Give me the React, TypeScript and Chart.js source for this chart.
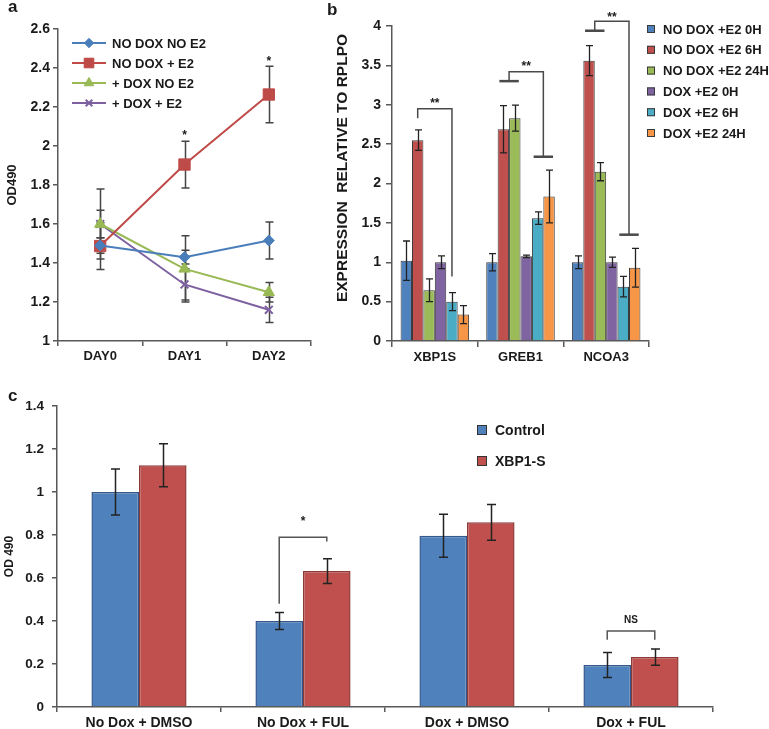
import React, { useEffect, useRef } from "react";
import { Chart, registerables } from "chart.js";
import { drawPoint } from "chart.js/helpers";
Chart.register(...registerables);

const FF = "'Liberation Sans', Arial, sans-serif";
const TEXT = "#1a1a1a";
const AXIS = "#595959";

// ---------------- Panel a ----------------
const daysA = ["DAY0", "DAY1", "DAY2"];
const namesA = ["NO DOX NO E2", "NO DOX + E2", "+ DOX NO E2", "+ DOX + E2"];
const noDoxNoE2 = [1.49, 1.43, 1.515];
const noDoxNoE2Err = [0.04, 0.035, 0.095];
const noDoxE2 = [1.487, 1.905, 2.264];
const noDoxE2Err = [0.12, 0.12, 0.145];
const doxNoE2 = [1.6, 1.37, 1.25];
const doxNoE2Err = [0.07, 0.17, 0.05];
const doxE2 = [1.6, 1.29, 1.16];
const doxE2Err = [0.18, 0.08, 0.065];
const starsAIndex = [1, 2];
const starsAValue = [2.07, 2.45];

// ---------------- Panel b ----------------
const genesB = ["XBP1S", "GREB1", "NCOA3"];
const namesB = ["NO DOX +E2 0H", "NO DOX +E2 6H", "NO DOX +E2 24H", "DOX +E2 0H", "DOX +E2 6H", "DOX +E2 24H"];
const noDox0h = [1.02, 1.0, 1.0];
const noDox0hErr = [0.25, 0.11, 0.08];
const noDox6h = [2.55, 2.69, 3.56];
const noDox6hErr = [0.13, 0.3, 0.19];
const noDox24h = [0.645, 2.83, 2.15];
const noDox24hErr = [0.145, 0.165, 0.115];
const dox0h = [1.0, 1.075, 1.0];
const dox0hErr = [0.08, 0.015, 0.065];
const dox6h = [0.5, 1.56, 0.69];
const dox6hErr = [0.115, 0.08, 0.13];
const dox24h = [0.335, 1.835, 0.93];
const dox24hErr = [0.115, 0.335, 0.245];
const bracketCatB = [0, 1, 2];
const bracketLeftB = [[1], [1, 2], [1, 2]];
const bracketRightB = [[4], [4, 5], [4, 5]];
const bracketTopB = [2.95, 3.42, 4.06];
const bracketLeftYB = [2.83, 3.3, 3.94];
const bracketRightYB = [0.82, 2.34, 1.35];
const bracketLabelB = ["**", "**", "**"];
const bracketLabelYB = [3.05, 3.52, 4.15];

// ---------------- Panel c ----------------
const catsC = ["No Dox + DMSO", "No Dox + FUL", "Dox + DMSO", "Dox + FUL"];
const namesC = ["Control", "XBP1-S"];
const controlC = [1.0, 0.4, 0.796, 0.195];
const controlCErr = [0.107, 0.04, 0.1, 0.058];
const xbp1sC = [1.124, 0.632, 0.859, 0.232];
const xbp1sCErr = [0.1, 0.057, 0.083, 0.038];
const bracketCatC = [1, 3];
const bracketTopC = [0.79, 0.353];
const bracketLeftYC = [0.48, 0.313];
const bracketRightYC = [0.77, 0.313];
const bracketLabelC = ["*", "NS"];
const bracketLabelYC = [0.875, 0.405];

const fmt = (v: any) => String(Math.round(Number(v) * 10) / 10);

function errorBars(id: string, color: string, cap: number, lw: number, before: boolean) {
  const draw = (chart: any) => {
    const ctx = chart.ctx;
    const ys = chart.scales.y;
    ctx.save();
    ctx.strokeStyle = color;
    ctx.lineWidth = lw;
    chart.data.datasets.forEach((ds: any, di: number) => {
      if (!ds.errors) return;
      const meta = chart.getDatasetMeta(di);
      meta.data.forEach((el: any, i: number) => {
        const v = ds.data[i];
        const e = ds.errors[i];
        const x = Math.round(el.x) + 0.5;
        const yt = ys.getPixelForValue(v + e);
        const yb = ys.getPixelForValue(v - e);
        ctx.beginPath();
        ctx.moveTo(x, yt);
        ctx.lineTo(x, yb);
        ctx.moveTo(x - cap, yt);
        ctx.lineTo(x + cap, yt);
        ctx.moveTo(x - cap, yb);
        ctx.lineTo(x + cap, yb);
        ctx.stroke();
      });
    });
    ctx.restore();
  };
  return before ? { id, beforeDatasetsDraw: draw } : { id, afterDatasetsDraw: draw };
}

function axisOpts(font: number, tickLen: number, pad: number) {
  return {
    grid: { drawOnChartArea: false, tickLength: tickLen, color: AXIS, lineWidth: 1.5 },
    border: { color: AXIS, width: 1.5 },
    ticks: { font: { family: FF, size: font, weight: "bold" }, color: TEXT, padding: pad },
  };
}

function configA(): any {
  const colors = ["#4a7ebb", "#be4b48", "#98b954", "#7d60a0"];
  const styles = ["rectRot", "rect", "triangle", "crossRot"];
  const radii = [5.5, 8, 6.5, 5.5];
  const vals = [noDoxNoE2, noDoxE2, doxNoE2, doxE2];
  const errs = [noDoxNoE2Err, noDoxE2Err, doxNoE2Err, doxE2Err];
  const xa: any = axisOpts(13, 5, 3);
  xa.offset = true;
  xa.grid.offset = true;
  xa.ticks.maxRotation = 0;
  xa.afterFit = (s: any) => { s.height = 29; };
  const ya: any = axisOpts(14, 5, 3);
  ya.min = 1;
  ya.max = 2.6;
  ya.ticks.stepSize = 0.2;
  ya.ticks.callback = fmt;
  ya.afterFit = (s: any) => { s.width = 58; };
  ya.title = { display: true, text: "OD490", color: TEXT, font: { family: FF, size: 13, weight: "bold" }, padding: { top: 5, bottom: 0 } };
  return {
    type: "line",
    data: {
      labels: daysA,
      datasets: namesA.map((name, i) => ({
        label: name,
        data: vals[i],
        errors: errs[i],
        borderColor: colors[i],
        backgroundColor: colors[i],
        pointBackgroundColor: colors[i],
        pointBorderColor: colors[i],
        pointStyle: styles[i],
        pointRadius: radii[i],
        pointBorderWidth: i === 3 ? 2 : 1,
        borderWidth: 2,
        tension: 0,
      })),
    },
    options: {
      animation: false,
      responsive: false,
      layout: { padding: { left: 0, top: 29, right: 9, bottom: 0 } },
      plugins: { legend: { display: false }, tooltip: { enabled: false } },
      scales: { x: xa, y: ya },
    },
    plugins: [
      errorBars("errA", "#454545", 4, 1.5, true),
      {
        id: "legendA",
        afterDraw(chart: any) {
          const ctx = chart.ctx;
          chart.data.datasets.forEach((ds: any, i: number) => {
            const y = 43 + 20 * i;
            ctx.save();
            ctx.strokeStyle = ds.borderColor;
            ctx.lineWidth = 2;
            ctx.beginPath();
            ctx.moveTo(72, y);
            ctx.lineTo(106, y);
            ctx.stroke();
            ctx.fillStyle = ds.pointBackgroundColor;
            ctx.strokeStyle = ds.pointBorderColor;
            ctx.lineWidth = ds.pointBorderWidth;
            drawPoint(ctx, { pointStyle: ds.pointStyle, radius: ds.pointRadius * 0.85, rotation: 0, borderWidth: ds.pointBorderWidth } as any, 89, y);
            ctx.fillStyle = TEXT;
            ctx.font = `bold 13px ${FF}`;
            ctx.textBaseline = "middle";
            ctx.fillText(ds.label, 112, y + 1);
            ctx.restore();
          });
        },
      },
      {
        id: "starsA",
        afterDraw(chart: any) {
          const ctx = chart.ctx;
          const meta = chart.getDatasetMeta(1);
          ctx.save();
          ctx.fillStyle = TEXT;
          ctx.font = `bold 12px ${FF}`;
          ctx.textAlign = "center";
          ctx.textBaseline = "middle";
          starsAIndex.forEach((idx, k) => {
            ctx.fillText("*", meta.data[idx].x, chart.scales.y.getPixelForValue(starsAValue[k]) + 3);
          });
          ctx.restore();
        },
      },
    ],
  };
}

function configB(): any {
  const colors = ["#4f81bd", "#c0504d", "#9bbb59", "#8064a2", "#4bacc6", "#f79646"];
  const vals = [noDox0h, noDox6h, noDox24h, dox0h, dox6h, dox24h];
  const errs = [noDox0hErr, noDox6hErr, noDox24hErr, dox0hErr, dox6hErr, dox24hErr];
  const xa: any = axisOpts(13, 6, 3);
  xa.ticks.maxRotation = 0;
  xa.grid.offset = true;
  xa.afterFit = (s: any) => { s.height = 29; };
  const ya: any = axisOpts(14, 6, 5);
  ya.min = 0;
  ya.max = 4;
  ya.ticks.stepSize = 0.5;
  ya.ticks.callback = fmt;
  ya.afterFit = (s: any) => { s.width = 72; };
  return {
    type: "bar",
    data: {
      labels: genesB,
      datasets: namesB.map((name, i) => ({
        label: name,
        data: vals[i],
        errors: errs[i],
        backgroundColor: colors[i],
        borderColor: "#3a3a3a",
        borderWidth: 1,
        categoryPercentage: 0.8,
        barPercentage: 1,
      })),
    },
    options: {
      animation: false,
      responsive: false,
      layout: { padding: { left: 0, top: 26, right: 120, bottom: 0 } },
      plugins: { legend: { display: false }, tooltip: { enabled: false } },
      scales: { x: xa, y: ya },
    },
    plugins: [
      errorBars("errB", "#222222", 3.5, 1.3, false),
      {
        id: "bracketsB",
        afterDraw(chart: any) {
          const ctx = chart.ctx;
          const ys = chart.scales.y;
          const px = (di: number, cat: number) => chart.getDatasetMeta(di).data[cat].x;
          ctx.save();
          ctx.strokeStyle = "#4a4a4a";
          ctx.lineWidth = 1.5;
          bracketCatB.forEach((cat, k) => {
            const L = bracketLeftB[k].map((d) => px(d, cat));
            const R = bracketRightB[k].map((d) => px(d, cat));
            const lx = (L[0] + L[L.length - 1]) / 2;
            const rx = (R[0] + R[R.length - 1]) / 2;
            const yTop = ys.getPixelForValue(bracketTopB[k]);
            const yL = ys.getPixelForValue(bracketLeftYB[k]);
            const yR = ys.getPixelForValue(bracketRightYB[k]);
            ctx.beginPath();
            ctx.moveTo(lx, yL);
            ctx.lineTo(lx, yTop);
            ctx.lineTo(rx, yTop);
            ctx.lineTo(rx, yR);
            ctx.stroke();
            ctx.lineWidth = 2.5;
            if (L.length > 1) {
              ctx.beginPath();
              ctx.moveTo(L[0] - 4, yL);
              ctx.lineTo(L[L.length - 1] + 4, yL);
              ctx.stroke();
            }
            if (R.length > 1) {
              ctx.beginPath();
              ctx.moveTo(R[0] - 4, yR);
              ctx.lineTo(R[R.length - 1] + 4, yR);
              ctx.stroke();
            }
            ctx.lineWidth = 1.5;
            ctx.fillStyle = TEXT;
            ctx.font = `bold 12px ${FF}`;
            ctx.textAlign = "center";
            ctx.textBaseline = "middle";
            ctx.fillText(bracketLabelB[k], (lx + rx) / 2, ys.getPixelForValue(bracketLabelYB[k]) + 3);
          });
          ctx.restore();
        },
      },
      {
        id: "legendB",
        afterDraw(chart: any) {
          const ctx = chart.ctx;
          ctx.save();
          chart.data.datasets.forEach((ds: any, i: number) => {
            const y = 29 + 20.8 * i;
            ctx.fillStyle = ds.backgroundColor;
            ctx.fillRect(327, y - 4, 8, 8);
            ctx.strokeStyle = "#3a3a3a";
            ctx.lineWidth = 1;
            ctx.strokeRect(327.5, y - 3.5, 7, 7);
            ctx.fillStyle = TEXT;
            ctx.font = `bold 13px ${FF}`;
            ctx.textBaseline = "middle";
            ctx.fillText(ds.label, 343, y + 1);
          });
          ctx.translate(23, 168);
          ctx.rotate(-Math.PI / 2);
          ctx.fillStyle = TEXT;
          ctx.font = `bold 15.5px ${FF}`;
          ctx.textAlign = "center";
          ctx.textBaseline = "middle";
          ctx.fillText("EXPRESSION  RELATIVE TO RPLPO", 0, 0);
          ctx.restore();
        },
      },
    ],
  };
}

function configC(): any {
  const fills = ["#4f81bd", "#c0504d"];
  const borders = ["#34588a", "#8c3a38"];
  const vals = [controlC, xbp1sC];
  const errs = [controlCErr, xbp1sCErr];
  const xa: any = axisOpts(14, 5, 3);
  xa.ticks.maxRotation = 0;
  xa.grid.offset = true;
  xa.afterFit = (s: any) => { s.height = 22; };
  const ya: any = axisOpts(13.5, 5, 8);
  ya.min = 0;
  ya.max = 1.4;
  ya.ticks.stepSize = 0.2;
  ya.ticks.callback = fmt;
  ya.afterFit = (s: any) => { s.width = 57; };
  ya.title = { display: true, text: "OD 490", color: TEXT, font: { family: FF, size: 12, weight: "bold" }, padding: { top: 2, bottom: 0 } };
  return {
    type: "bar",
    data: {
      labels: catsC,
      datasets: namesC.map((name, i) => ({
        label: name,
        data: vals[i],
        errors: errs[i],
        backgroundColor: fills[i],
        borderColor: borders[i],
        borderWidth: 1.5,
        categoryPercentage: 0.58,
        barPercentage: 1,
      })),
    },
    options: {
      animation: false,
      responsive: false,
      layout: { padding: { left: 0, top: 36, right: 56, bottom: 0 } },
      plugins: { legend: { display: false }, tooltip: { enabled: false } },
      scales: { x: xa, y: ya },
    },
    plugins: [
      errorBars("errC", "#222222", 4.5, 1.5, false),
      {
        id: "bracketsC",
        afterDraw(chart: any) {
          const ctx = chart.ctx;
          const ys = chart.scales.y;
          ctx.save();
          ctx.strokeStyle = "#555555";
          ctx.lineWidth = 1.5;
          bracketCatC.forEach((cat, k) => {
            const lx = chart.getDatasetMeta(0).data[cat].x;
            const rx = chart.getDatasetMeta(1).data[cat].x;
            const yTop = ys.getPixelForValue(bracketTopC[k]);
            ctx.beginPath();
            ctx.moveTo(lx, ys.getPixelForValue(bracketLeftYC[k]));
            ctx.lineTo(lx, yTop);
            ctx.lineTo(rx, yTop);
            ctx.lineTo(rx, ys.getPixelForValue(bracketRightYC[k]));
            ctx.stroke();
            ctx.fillStyle = TEXT;
            ctx.font = `bold ${k === 0 ? 12 : 10}px ${FF}`;
            ctx.textAlign = "center";
            ctx.textBaseline = "middle";
            ctx.fillText(bracketLabelC[k], (lx + rx) / 2, ys.getPixelForValue(bracketLabelYC[k]) + (k === 0 ? 3 : 0));
          });
          ctx.restore();
        },
      },
      {
        id: "legendC",
        afterDraw(chart: any) {
          const ctx = chart.ctx;
          ctx.save();
          chart.data.datasets.forEach((ds: any, i: number) => {
            const y = 60 + 31 * i;
            ctx.fillStyle = ds.backgroundColor;
            ctx.fillRect(477, y - 5, 10, 10);
            ctx.strokeStyle = "#333333";
            ctx.lineWidth = 1;
            ctx.strokeRect(477.5, y - 4.5, 9, 9);
            ctx.fillStyle = TEXT;
            ctx.font = `bold 14px ${FF}`;
            ctx.textBaseline = "middle";
            ctx.fillText(ds.label, 495, y + 1);
          });
          ctx.restore();
        },
      },
    ],
  };
}

function Panel(props: { make: () => any; left: number; top: number; width: number; height: number }) {
  const ref = useRef<HTMLCanvasElement>(null);
  useEffect(() => {
    const chart = new Chart(ref.current as HTMLCanvasElement, props.make());
    return () => chart.destroy();
  }, []);
  return (
    <canvas
      ref={ref}
      width={props.width}
      height={props.height}
      style={{ position: "absolute", left: props.left, top: props.top, width: props.width, height: props.height }}
    />
  );
}

const letterStyle: any = { position: "absolute", fontFamily: FF, fontWeight: "bold", fontSize: 17, lineHeight: "17px", color: TEXT };

export default function App() {
  return (
    <div style={{ position: "fixed", left: 0, top: 0, width: 769, height: 729, background: "#ffffff", overflow: "hidden" }}>
      <Panel make={configA} left={0} top={0} width={320} height={370} />
      <Panel make={configB} left={320} top={0} width={449} height={370} />
      <Panel make={configC} left={0} top={370} width={769} height={359} />
      <div style={{ ...letterStyle, left: 8, top: -2 }}>a</div>
      <div style={{ ...letterStyle, left: 327, top: 1 }}>b</div>
      <div style={{ ...letterStyle, left: 8, top: 387 }}>c</div>
    </div>
  );
}
